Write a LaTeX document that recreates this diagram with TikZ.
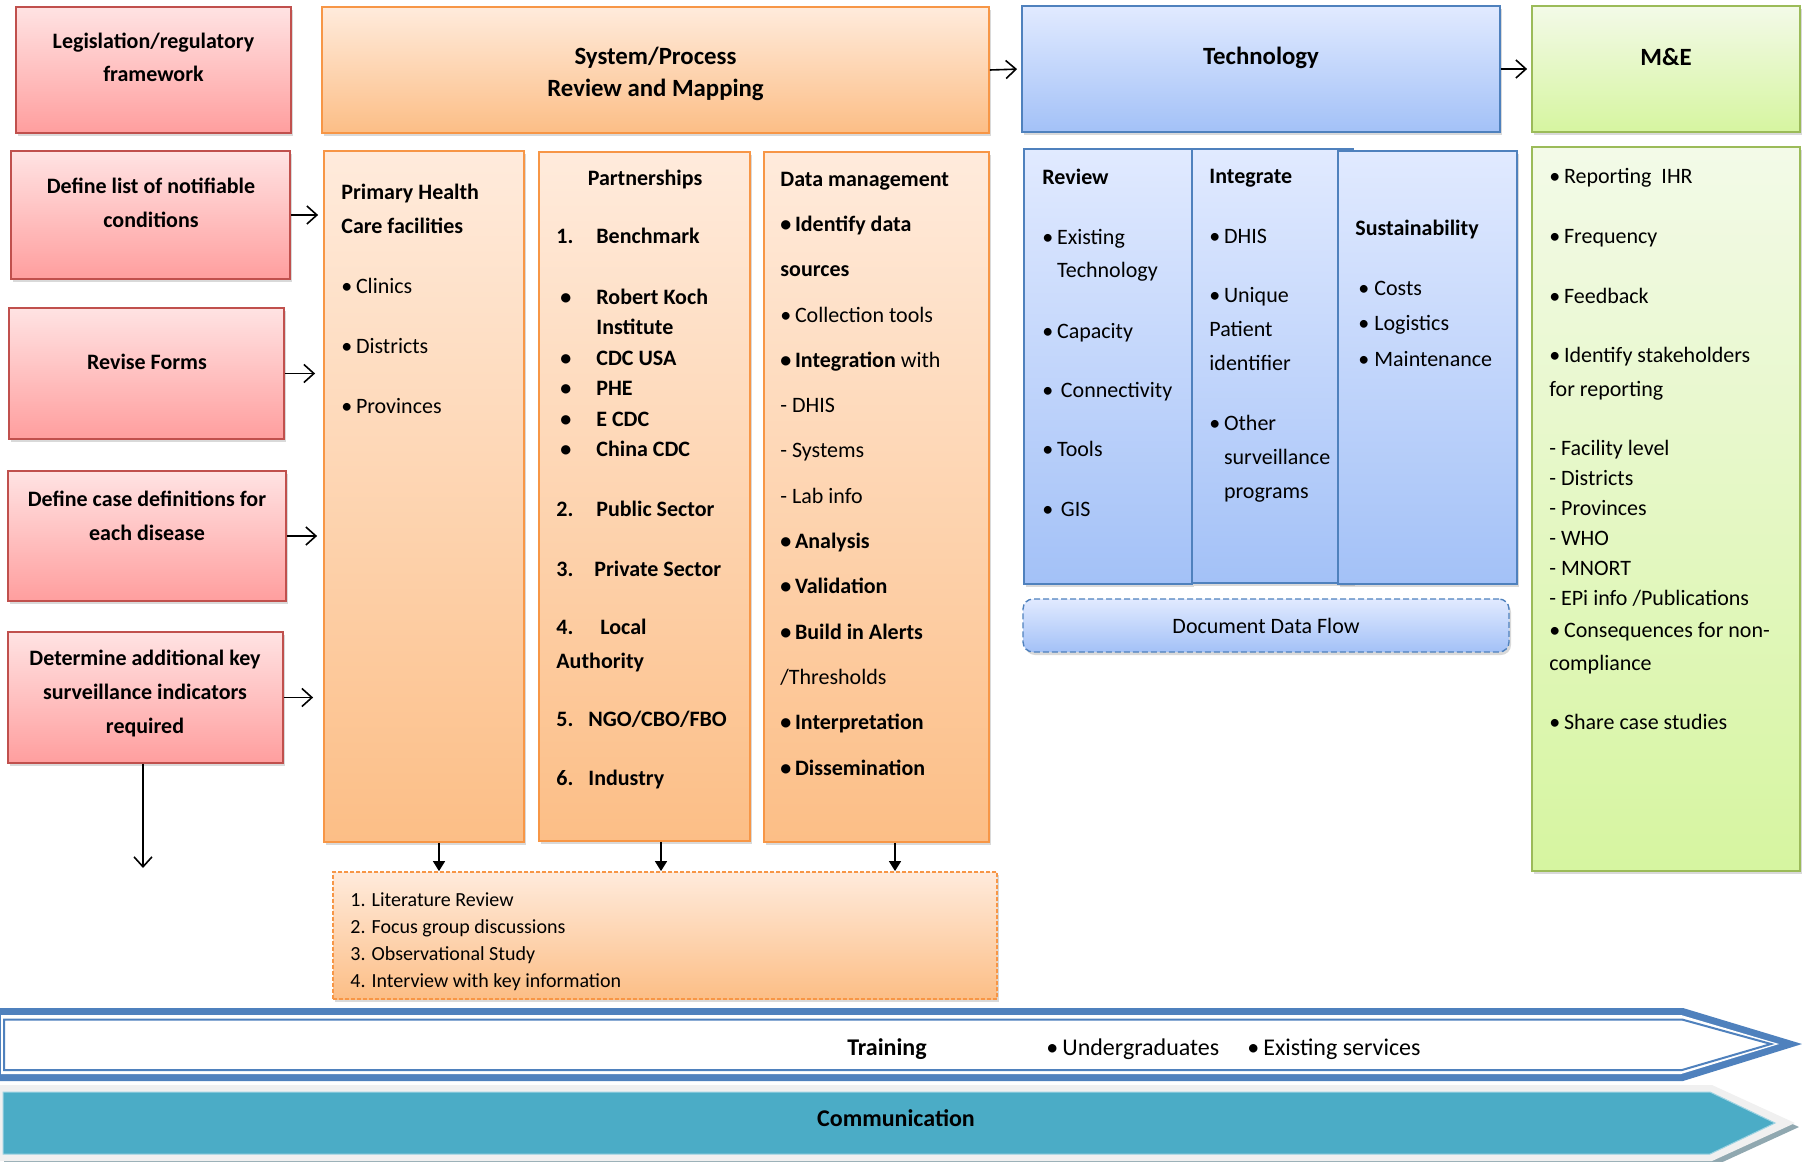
\documentclass[tikz,border=0pt]{standalone}
\usepackage{fontspec}
\setmainfont{Carlito}
\usetikzlibrary{arrows.meta,shadows,positioning}

\definecolor{redtop}{HTML}{FFE3E3}
\definecolor{redbot}{HTML}{FF9E9E}
\definecolor{redline}{HTML}{C0504D}
\definecolor{orgtop}{HTML}{FFEBDC}
\definecolor{orgbot}{HTML}{FCBE86}
\definecolor{orgline}{HTML}{F79646}
\definecolor{blutop}{HTML}{E1EAFF}
\definecolor{blubot}{HTML}{A3C1F7}
\definecolor{bluline}{HTML}{4F81BD}
\definecolor{grntop}{HTML}{F3FAE8}
\definecolor{grnbot}{HTML}{D6F5A0}
\definecolor{grnline}{HTML}{9BBB59}
\definecolor{trainline}{HTML}{4F81BD}
\definecolor{commbg}{HTML}{F0F0F0}
\definecolor{commshadow}{HTML}{90A8B0}
\definecolor{commfill}{HTML}{4BACC6}
\definecolor{commedge}{HTML}{9DD3E2}

\begin{document}
\begin{tikzpicture}[x=0.5pt,y=-0.5pt,
    >={Straight Barb[length=5pt,width=9pt]},
    every node/.style={inner sep=0pt},
    box/.style={draw, line width=0.9pt, drop shadow={shadow xshift=1pt,shadow yshift=-1.5pt,opacity=0.3}},
    redbox/.style={box, draw=redline, top color=redtop, bottom color=redbot},
    orgbox/.style={box, draw=orgline, top color=orgtop, bottom color=orgbot},
    blubox/.style={box, draw=bluline, top color=blutop, bottom color=blubot},
    grnbox/.style={box, draw=grnline, top color=grntop, bottom color=grnbot},
    head/.style={font=\fontsize{12.4}{16}\selectfont\bfseries, align=center},
    redtxt/.style={font=\fontsize{11}{17}\selectfont\bfseries, align=center},
    coltxt/.style={anchor=north west, align=left},
    link/.style={->, line width=0.8pt},
    drop/.style={-{Triangle[length=5pt,width=6pt]}, line width=0.8pt}]
  \useasboundingbox (0,0) rectangle (1802,1161);

  \node[redbox, minimum width=137.5pt, minimum height=63pt] (legis) at (153.5,70) {};
  \node[redtxt, font=\fontsize{11}{16.5}\selectfont\bfseries] (legis-t) at (153.5,57) {Legislation/regulatory\\framework};
  \node[orgbox, minimum width=333.5pt, minimum height=63pt] (sys) at (655.5,70) {};
  \node[head] (sys-t) at (655.5,73.5) {System/Process\\Review and Mapping};
  \node[blubox, minimum width=239pt, minimum height=63pt] (tech) at (1261,69) {};
  \node[head] (tech-t) at (1261,57.5) {Technology};
  \node[grnbox, minimum width=134pt, minimum height=63pt] (me) at (1666,69) {};
  \node[head] (me-t) at (1666,57.5) {M\&E};

  \node[redbox, minimum width=139.5pt, minimum height=64pt] (defl) at (150.5,215) {};
  \node[redtxt] (defl-t) at (151,203) {Define list of notifiable\\conditions};
  \node[redbox, minimum width=137.5pt, minimum height=65.5pt] (revise) at (146.5,373.5) {};
  \node[redtxt] (revise-t) at (147,361.5) {Revise Forms};
  \node[redbox, minimum width=139pt, minimum height=65pt] (defcase) at (147,536) {};
  \node[redtxt] (defcase-t) at (147,515.5) {Define case definitions for\\each disease};
  \node[redbox, minimum width=137.5pt, minimum height=65.5pt] (determ) at (145.5,697.5) {};
  \node[redtxt] (determ-t) at (145,693.5) {Determine additional key\\surveillance indicators\\required};

  \node[orgbox, minimum width=100pt, minimum height=345.5pt] (phc) at (424,496.5) {};
  \node[coltxt, font=\fontsize{11}{17}\selectfont] (phc-t) at (341,184) {\textbf{Primary Health}\\\textbf{Care facilities}\\[13pt]
    \textbullet\,Clinics\\[13pt]
    \textbullet\,Districts\\[13pt]
    \textbullet\,Provinces};
  \node[orgbox, minimum width=105.5pt, minimum height=344.5pt] (pship) at (644.5,496.5) {};
  \node[font=\fontsize{11}{13}\selectfont\bfseries] (pship-h) at (645,179.5) {Partnerships};
  \node[coltxt, font=\fontsize{11}{15.25}\selectfont\bfseries] (pship-t) at (556,227.5) {\makebox[20pt][l]{1.}Benchmark\\[15.25pt]
    \makebox[20pt][l]{\hspace*{2pt}\textbullet}Robert Koch\\
    \makebox[20pt][l]{}Institute\\
    \makebox[20pt][l]{\hspace*{2pt}\textbullet}CDC USA\\
    \makebox[20pt][l]{\hspace*{2pt}\textbullet}PHE\\
    \makebox[20pt][l]{\hspace*{2pt}\textbullet}E CDC\\
    \makebox[20pt][l]{\hspace*{2pt}\textbullet}China CDC\\[14.75pt]
    \makebox[20pt][l]{2.}Public Sector\\[14.75pt]
    \makebox[19pt][l]{3.}Private Sector\\[13.75pt]
    \makebox[22pt][l]{4.}Local\\[1.75pt]
    Authority\\[13.75pt]
    \makebox[16pt][l]{5.}NGO/CBO/FBO\\[14.25pt]
    \makebox[16pt][l]{6.}Industry};
  \node[orgbox, minimum width=112.5pt, minimum height=345pt] (datam) at (876.5,497) {};
  \node[coltxt, font=\fontsize{11}{22.65}\selectfont] (datam-t) at (780,171.5) {\textbf{Data management}\\
    \textbf{\textbullet\,Identify data}\\
    \textbf{sources}\\
    \textbullet\,Collection tools\\
    \textbf{\textbullet\,Integration} with\\
    - DHIS\\
    - Systems\\
    - Lab info\\
    \textbf{\textbullet\,Analysis}\\
    \textbf{\textbullet\,Validation}\\
    \textbf{\textbullet\,Build in Alerts}\\
    /Thresholds\\
    \textbf{\textbullet\,Interpretation}\\
    \textbf{\textbullet\,Dissemination}};

  \node[orgbox, dash pattern=on 2pt off 1pt, minimum width=332pt, minimum height=63.5pt] (methods) at (665,935.5) {};
  \node[coltxt, font=\fontsize{10}{13.5}\selectfont] (methods-t) at (350,892) {1. Literature Review\\2. Focus group discussions\\3. Observational Study\\4. Interview with key information};

  \node[blubox, minimum width=84pt, minimum height=217.5pt] (review) at (1108,366.5) {};
  \node[blubox, minimum width=80.5pt, minimum height=217pt] (integ) at (1272.5,366) {};
  \node[blubox, minimum width=89.5pt, minimum height=216.5pt] (sustain) at (1427.5,367.5) {};
  \node[coltxt, font=\fontsize{11}{16.5}\selectfont] (review-t) at (1042,169) {\textbf{Review}\\[13.5pt]
    \textbullet\,Existing\\
    \phantom{\textbullet\,}Technology\\[14pt]
    \textbullet\,Capacity\\[13pt]
    \textbullet\hspace{3.8pt}Connectivity\\[13pt]
    \textbullet\,Tools\\[13.5pt]
    \textbullet\hspace{3.8pt}GIS};
  \node[coltxt, font=\fontsize{11}{17}\selectfont] (integ-t) at (1209,169) {\textbf{Integrate}\\[13pt]
    \textbullet\,DHIS\\[12.5pt]
    \textbullet\,Unique\\
    Patient\\
    identifier\\[13pt]
    \textbullet\,Other\\
    \phantom{\textbullet\,}surveillance\\
    \phantom{\textbullet\,}programs};
  \node[coltxt, font=\fontsize{11}{17.75}\selectfont] (sustain-t) at (1355,220) {\textbf{Sustainability}\\[12pt]
    \hspace*{1.5pt}\textbullet\hspace{2.5pt}Costs\\
    \hspace*{1.5pt}\textbullet\hspace{2.5pt}Logistics\\
    \hspace*{1.5pt}\textbullet\hspace{2.5pt}Maintenance};
  \node[blubox, dash pattern=on 3pt off 1.5pt, rounded corners=5pt, line width=0.7pt, minimum width=243pt, minimum height=26.5pt, font=\fontsize{11}{13}\selectfont] (ddf) at (1266,625.5) {Document Data Flow};

  \node[grnbox, minimum width=134pt, minimum height=362pt] (mebody) at (1666,509) {};
  \node[coltxt, font=\fontsize{11}{15}\selectfont] (mebody-t) at (1549,167.5) {\textbullet\,Reporting\ \ IHR\\[15pt]
    \textbullet\,Frequency\\[15pt]
    \textbullet\,Feedback\\[14.5pt]
    \textbullet\,Identify stakeholders\\[2pt]
    for reporting\\[14.5pt]
    - Facility level\\
    - Districts\\
    - Provinces\\
    - WHO\\
    - MNORT\\
    - EPi info /Publications\\[1pt]
    \textbullet\,Consequences for non-\\[1.5pt]
    compliance\\[14.5pt]
    \textbullet\,Share case studies};

  \draw[link, shorten >=2pt] (sys.east) -- (tech.west);
  \draw[link, shorten >=2pt] (tech.east) -- (me.west);
  \draw[link, shorten >=2.5pt] (defl.east) -- (defl.east -| phc.west);
  \draw[link, shorten >=4pt] (revise.east) -- (revise.east -| phc.west);
  \draw[link, shorten >=3pt] (defcase.east) -- (defcase.east -| phc.west);
  \draw[link, shorten >=5pt] (determ.east) -- (determ.east -| phc.west);
  \coordinate (determ-out) at (143,868);
  \draw[link] (determ.south -| determ-out) -- (determ-out);
  \draw[drop] ([xshift=7.5pt]phc.south) -- ([xshift=7.5pt]phc.south |- methods.north);
  \draw[drop] ([xshift=8.25pt]pship.south) -- ([xshift=8.25pt]pship.south |- methods.north);
  \draw[drop] ([xshift=9.25pt]datam.south) -- ([xshift=9.25pt]datam.south |- methods.north);

  \fill[trainline] (0,1008) -- (1683,1008) -- (1802,1044) -- (1683,1081) -- (0,1081) -- cycle;
  \fill[white] (1,1015) -- (1681,1015) -- (1779,1044) -- (1681,1074) -- (1,1074) -- cycle;
  \draw[trainline, line width=1pt] (4,1019.5) -- (1682,1019.5) -- (1771,1044) -- (1682,1070) -- (4,1070) -- cycle;
  \node[font=\fontsize{12}{14}\selectfont\bfseries] (train-t) at (887,1049) {Training};
  \node[anchor=west, font=\fontsize{12}{14}\selectfont] (train-a) at (1046,1049) {\textbullet\,Undergraduates};
  \node[anchor=west, font=\fontsize{12}{14}\selectfont] (train-b) at (1247,1049) {\textbullet\,Existing services};

  \fill[commshadow] (4,1089) -- (1716,1089) -- (1799,1127) -- (1716,1165) -- (4,1165) -- cycle;
  \fill[commbg] (0,1085) -- (1712,1085) -- (1795,1123) -- (1712,1161) -- (0,1161) -- cycle;
  \filldraw[fill=commfill, draw=commedge, line width=0.5pt] (3,1092) -- (1710,1092) -- (1775,1123) -- (1710,1154) -- (3,1154) -- cycle;
  \node[font=\fontsize{12}{14}\selectfont\bfseries] (comm-t) at (896,1118) {Communication};
\end{tikzpicture}
\end{document}
